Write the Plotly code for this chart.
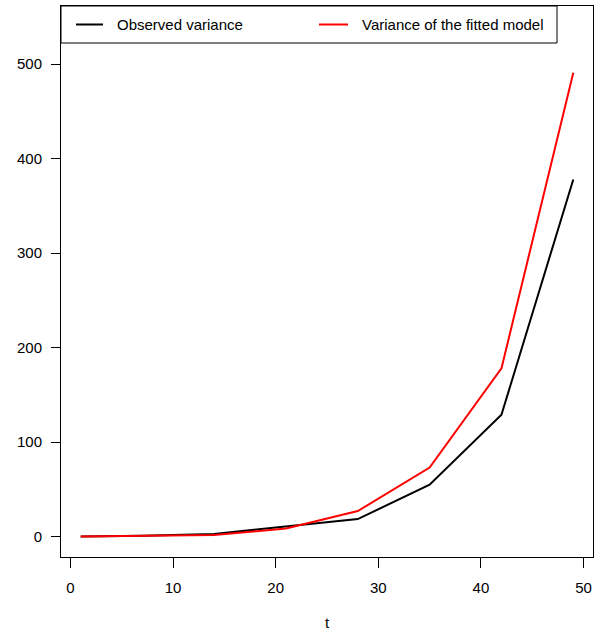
import plotly.graph_objects as go

# Sampling times and variances
t = [1, 7, 14, 21, 28, 35, 42, 49]
observed_var = [0.1, 0.8, 2.8, 10.5, 18.5, 55, 129, 378]
fitted_var = [0.05, 0.4, 1.6, 8.5, 27, 73, 178, 491]

x_ticks = [0, 10, 20, 30, 40, 50]
y_ticks = [0, 100, 200, 300, 400, 500]

FONT = "Liberation Sans, Arial, Helvetica, sans-serif"

fig = go.Figure()
fig.add_trace(go.Scatter(x=t, y=observed_var, mode="lines",
                         line=dict(color="black", width=2),
                         name="Observed variance"))
fig.add_trace(go.Scatter(x=t, y=fitted_var, mode="lines",
                         line=dict(color="#FF0000", width=2),
                         name="Variance of the fitted model"))

axis_common = dict(showgrid=False, zeroline=False, showline=True, mirror=True,
                   linecolor="black", linewidth=1, ticks="outside",
                   tickcolor="black", tickwidth=1, automargin=False,
                   tickfont=dict(family=FONT, size=15, color="black"))

fig.update_xaxes(range=[-0.92, 50.92], tickvals=x_ticks,
                 ticklen=10, ticklabelstandoff=7,
                 title=dict(text="t", font=dict(family=FONT, size=15, color="black"),
                            standoff=22),
                 **axis_common)
fig.update_yaxes(range=[-21.6, 561.6], tickvals=y_ticks,
                 ticklen=9, ticklabelstandoff=6, **axis_common)

# Legend box drawn in the top-left corner of the plotting region
x0p, x1p = 0.0, (557 - 61) / (593 - 61)
y1p = 1.0
y0p = 1.0 - (43 - 6) / (557 - 6)
ymid = (y0p + y1p) / 2

def px(xpix):
    return (xpix - 61) / (593 - 61)

shapes = [
    dict(type="rect", xref="paper", yref="paper", x0=x0p, x1=x1p, y0=y0p, y1=y1p,
         line=dict(color="black", width=1), fillcolor="white", layer="above"),
    dict(type="line", xref="paper", yref="paper", x0=px(76), x1=px(103), y0=ymid, y1=ymid,
         line=dict(color="black", width=2), layer="above"),
    dict(type="line", xref="paper", yref="paper", x0=px(319), x1=px(348), y0=ymid, y1=ymid,
         line=dict(color="#FF0000", width=2), layer="above"),
]
annotations = [
    dict(text="Observed variance", xref="paper", yref="paper", x=px(115), y=ymid,
         xanchor="left", yanchor="middle", showarrow=False,
         font=dict(family=FONT, size=15, color="black")),
    dict(text="Variance of the fitted model", xref="paper", yref="paper", x=px(360), y=ymid,
         xanchor="left", yanchor="middle", showarrow=False,
         font=dict(family=FONT, size=15, color="black")),
]

fig.update_layout(width=602, height=633,
                  margin=dict(l=61, r=9, t=6, b=76),
                  plot_bgcolor="white", paper_bgcolor="white",
                  showlegend=False, shapes=shapes, annotations=annotations)

fig.write_html("out.html")
